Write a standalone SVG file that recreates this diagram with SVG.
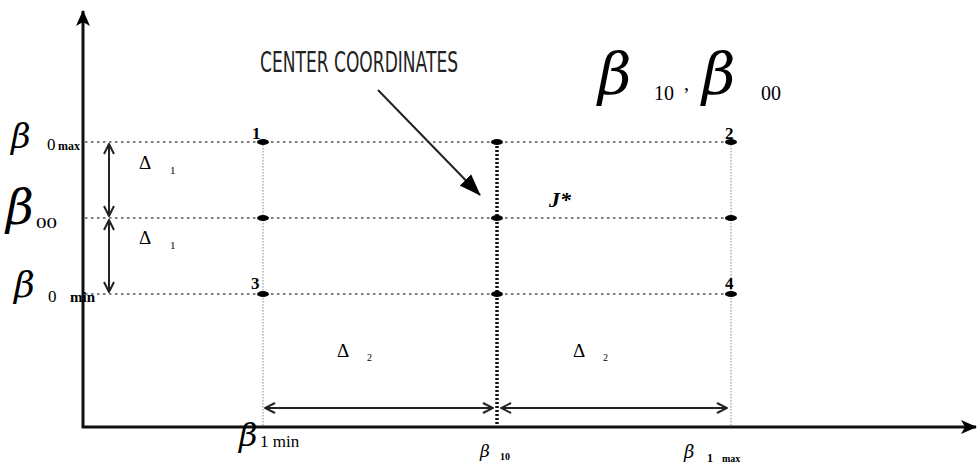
<svg xmlns="http://www.w3.org/2000/svg" width="978" height="468" viewBox="0 0 978 468">
<style>
.hdot{stroke:#555;stroke-width:1.6;stroke-dasharray:2.5 3.5;fill:none}
.vthin{stroke:#888;stroke-width:1;stroke-dasharray:1.5 1.5;fill:none}
.vthick{stroke:#111;stroke-width:3.5;stroke-dasharray:2 2;fill:none}
.axis{stroke:#111;stroke-width:3;fill:none}
.dbl{stroke:#222;stroke-width:2;fill:none}
.dot{fill:#000}
.num{font-family:"Liberation Serif",serif;font-weight:bold;font-size:17px;fill:#000}
.beta{font-family:"DejaVu Serif",serif;font-style:italic;font-weight:200;fill:#000}
.sub{font-family:"Liberation Serif",serif;fill:#000}
.delta{font-family:"Liberation Serif",serif;font-size:19px;fill:#000}
</style>
<defs>
<marker id="open" viewBox="0 0 12 12" refX="11" refY="6" markerWidth="12" markerHeight="12" markerUnits="userSpaceOnUse" orient="auto-start-reverse">
<path d="M1,1 L11,6 L1,11" fill="none" stroke="#222" stroke-width="2"/>
</marker>
<marker id="solid" viewBox="0 0 16 14" refX="15" refY="7" markerWidth="16" markerHeight="14" markerUnits="userSpaceOnUse" orient="auto">
<path d="M0,0 L16,7 L0,14 L4,7 Z" fill="#000"/>
</marker>
<marker id="solid2" viewBox="0 0 22 18" refX="21" refY="9" markerWidth="22" markerHeight="18" markerUnits="userSpaceOnUse" orient="auto">
<path d="M0,1 L22,9 L0,17 Z" fill="#000"/>
</marker>
</defs>

<g id="connectors">
<line class="axis" x1="83" y1="428" x2="83" y2="11" marker-end="url(#solid)"/>
<line class="axis" x1="82" y1="427" x2="976" y2="427" stroke="#555" marker-end="url(#solid)"/>
<line class="hdot" x1="85" y1="142" x2="735" y2="142"/>
<line class="hdot" x1="85" y1="218" x2="735" y2="218"/>
<line class="hdot" x1="85" y1="294" x2="735" y2="294"/>
<line class="vthin" x1="263" y1="142" x2="263" y2="427"/>
<line class="vthick" x1="497" y1="142" x2="497" y2="427"/>
<line class="vthin" x1="731" y1="142" x2="731" y2="427" stroke="#555" stroke-width="1.6"/>
<line class="dbl" x1="109" y1="144" x2="109" y2="216" marker-start="url(#open)" marker-end="url(#open)"/>
<line class="dbl" x1="109" y1="220" x2="109" y2="292" marker-start="url(#open)" marker-end="url(#open)"/>
<line class="dbl" x1="265" y1="408" x2="493" y2="408" marker-start="url(#open)" marker-end="url(#open)"/>
<line class="dbl" x1="501" y1="408" x2="727" y2="408" marker-start="url(#open)" marker-end="url(#open)"/>
<line x1="378" y1="90" x2="480" y2="195" stroke="#222" stroke-width="2" marker-end="url(#solid2)"/>
</g>

<g id="points">
<ellipse class="dot" cx="263" cy="142" rx="6" ry="3"/>
<ellipse class="dot" cx="497" cy="142" rx="6" ry="3"/>
<ellipse class="dot" cx="731" cy="142" rx="6" ry="3"/>
<ellipse class="dot" cx="263" cy="218" rx="6" ry="3"/>
<ellipse class="dot" cx="497" cy="218" rx="6" ry="3"/>
<ellipse class="dot" cx="731" cy="218" rx="6" ry="3"/>
<ellipse class="dot" cx="263" cy="294" rx="6" ry="3"/>
<ellipse class="dot" cx="497" cy="294" rx="6" ry="3"/>
<ellipse class="dot" cx="731" cy="294" rx="6" ry="3"/>
</g>

<g id="point-labels">
<text class="num" x="252" y="139">1</text>
<text class="num" x="725" y="139">2</text>
<text class="num" x="251" y="289">3</text>
<text class="num" x="725" y="289">4</text>
<text x="549" y="207" font-family="Liberation Serif,serif" font-weight="bold" font-style="italic" font-size="22">J*</text>
</g>

<g id="center-label">
<text x="260" y="72" font-family="DejaVu Sans,sans-serif" font-size="28" textLength="198" lengthAdjust="spacingAndGlyphs" fill="#222">CENTER COORDINATES</text>
</g>

<g id="title">
<text class="beta" x="598" y="94" font-size="58">β</text>
<text class="sub" x="654" y="100" font-size="20">10</text>
<text class="sub" x="684" y="90" font-size="20">,</text>
<text class="beta" x="702" y="94" font-size="58">β</text>
<text class="sub" x="761" y="100" font-size="20">00</text>
</g>

<g id="y-labels">
<text class="beta" x="11" y="148" font-size="34">β</text>
<text class="sub" x="47" y="150" font-size="17">0</text>
<text class="sub" x="58" y="150" font-size="12" font-weight="bold">max</text>
<text class="beta" x="6" y="224" font-size="48">β</text>
<text class="sub" x="36" y="228" font-size="14" textLength="21" lengthAdjust="spacingAndGlyphs">00</text>
<text class="beta" x="14" y="297" font-size="36">β</text>
<text class="sub" x="48" y="302" font-size="17">0</text>
<text class="sub" x="70" y="302" font-size="15" font-weight="bold">min</text>
</g>

<g id="deltas">
<text class="delta" x="139" y="169">Δ</text>
<text class="sub" x="170" y="174" font-size="11">1</text>
<text class="delta" x="139" y="244">Δ</text>
<text class="sub" x="170" y="249" font-size="11">1</text>
<text class="delta" x="337" y="357">Δ</text>
<text class="sub" x="367" y="361" font-size="10">2</text>
<text class="delta" x="573" y="357">Δ</text>
<text class="sub" x="603" y="361" font-size="10">2</text>
</g>

<g id="x-labels">
<text class="beta" x="239" y="446" font-size="32">β</text>
<text class="sub" x="260" y="447" font-size="17">1 min</text>
<text class="beta" x="480" y="457" font-size="17">β</text>
<text class="sub" x="500" y="460" font-size="10" font-weight="bold">10</text>
<text class="beta" x="684" y="458" font-size="18">β</text>
<text class="sub" x="707" y="462" font-size="12" font-weight="bold">1</text>
<text class="sub" x="722" y="462" font-size="10" font-weight="bold">max</text>
</g>
</svg>
